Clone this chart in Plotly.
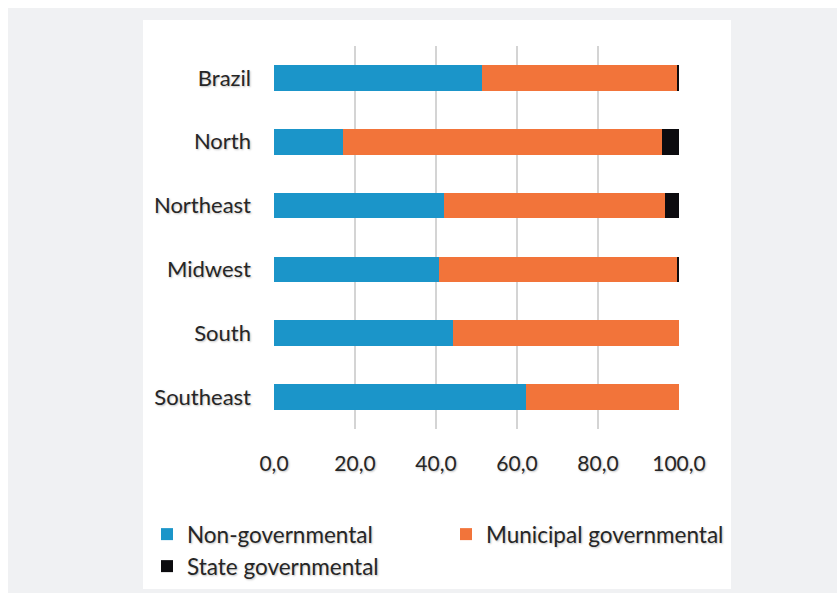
import plotly.graph_objects as go

# Share of organisations by type, per region (%)
regions = ["Brazil", "North", "Northeast", "Midwest", "South", "Southeast"]
non_governmental = [51.4, 17.0, 42.0, 40.7, 44.3, 62.3]
municipal_governmental = [48.1, 78.7, 54.6, 58.7, 55.7, 37.7]
state_governmental = [0.5, 4.3, 3.4, 0.6, 0.0, 0.0]

series = [
    ("Non-governmental", non_governmental, "#1b95c9", "legend"),
    ("Municipal governmental", municipal_governmental, "#f2743a", "legend2"),
    ("State governmental", state_governmental, "#0c0b0f", "legend3"),
]

FONT = "Lato, Carlito, Calibri, sans-serif"
TEXT = "#262626"
SHADOW = "1px 1px 2px rgba(0,0,0,0.25)"

fig = go.Figure()
for name, vals, color, leg in series:
    fig.add_trace(go.Bar(
        y=regions, x=vals, name=name, orientation="h", legend=leg,
        marker=dict(color=color, line=dict(width=0)),
    ))

W, H = 837, 596


def legend_at(px, py):
    # one legend entry placed by its top-left corner in page pixels
    return dict(
        xref="container", yref="container",
        x=px / W, y=1 - py / H, xanchor="left", yanchor="top",
        font=dict(family=FONT, size=22.5, color=TEXT, shadow=SHADOW),
        bgcolor="rgba(0,0,0,0)", borderwidth=0,
    )


fig.update_layout(
    width=W, height=H,
    barmode="stack", bargap=0.6,
    separators=",.",
    paper_bgcolor="#f0f1f3",
    plot_bgcolor="white",
    margin=dict(l=274, r=158, t=46, b=167, autoexpand=False),
    font=dict(family=FONT, color=TEXT, size=21, shadow=SHADOW),
    showlegend=True,
    legend=legend_at(147, 513),
    legend2=legend_at(446, 513),
    legend3=legend_at(147, 545),
    shapes=[
        # white strip at the top and left edge, then the white card
        dict(type="rect", xref="paper", yref="paper", layer="below",
             x0=-274 / 405, x1=(837 - 274) / 405, y0=1 + 38 / 383, y1=1 + 46 / 383,
             fillcolor="white", line=dict(width=0)),
        dict(type="rect", xref="paper", yref="paper", layer="below",
             x0=-274 / 405, x1=(8 - 274) / 405, y0=-167 / 383, y1=1 + 46 / 383,
             fillcolor="white", line=dict(width=0)),
        dict(type="rect", xref="paper", yref="paper", layer="below",
             x0=-274 / 405, x1=(837 - 274) / 405, y0=-167 / 383, y1=(-167 + 3) / 383,
             fillcolor="white", line=dict(width=0)),
        dict(type="rect", xref="paper", yref="paper", layer="below",
             x0=(143 - 274) / 405, x1=(731 - 274) / 405,
             y0=(429 - 589) / 383, y1=1 + (46 - 20) / 383,
             fillcolor="white", line=dict(width=0)),
    ],
)

fig.update_xaxes(
    range=[0, 100], tickvals=[0, 20, 40, 60, 80, 100], tickformat=".1f",
    showgrid=True, gridcolor="#d4d4d4", gridwidth=2,
    zeroline=False, showline=False, ticks="",
    ticklabelstandoff=20,
    tickfont=dict(family=FONT, size=21, color=TEXT, shadow=SHADOW),
    fixedrange=True,
)
fig.update_yaxes(
    categoryorder="array", categoryarray=regions[::-1],
    showgrid=False, zeroline=False, showline=False, ticks="",
    ticklabelstandoff=22,
    tickfont=dict(family=FONT, size=22, color=TEXT, shadow=SHADOW),
    fixedrange=True,
)

fig.write_html("out.html", config={"displayModeBar": False})
